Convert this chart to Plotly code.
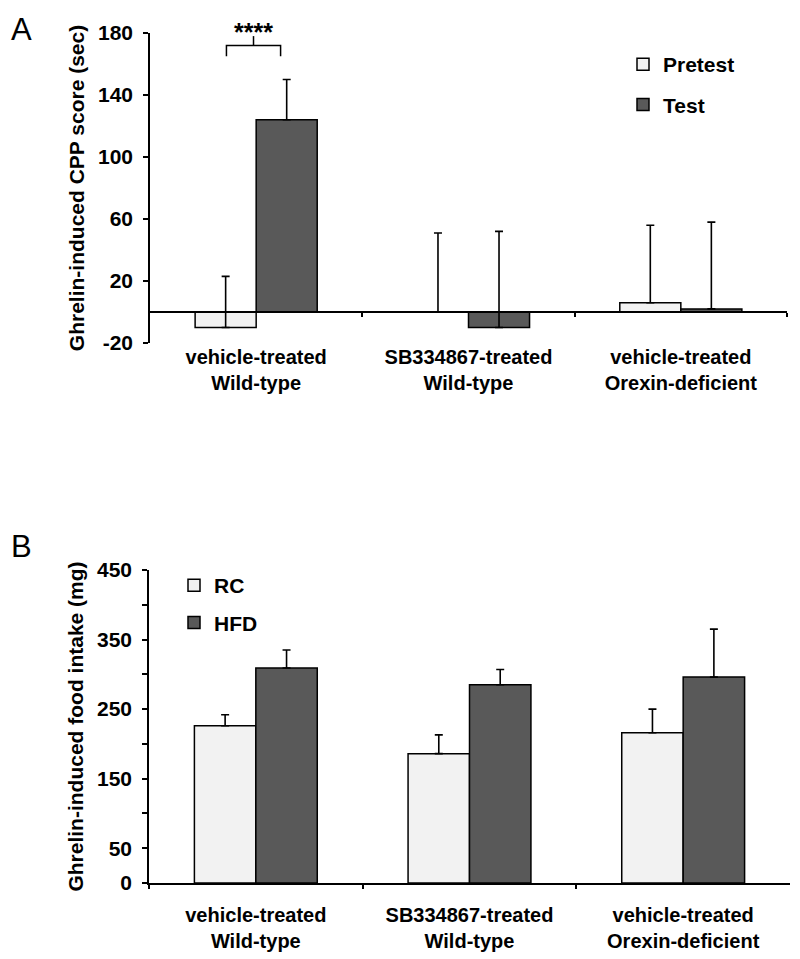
import plotly.graph_objects as go

# ---------------- data ----------------
categories = ["vehicle-treated<br>Wild-type",
              "SB334867-treated<br>Wild-type",
              "vehicle-treated<br>Orexin-deficient"]

# Panel A: ghrelin-induced CPP score (sec)
cpp_pretest = [-10, 0, 6]
cpp_pretest_err = [33, 51, 50]
cpp_test = [124, -10, 2]
cpp_test_err = [26, 62, 56]
cpp_ticks = [-20, 20, 60, 100, 140, 180]
cpp_ticktext = ["-20", "20", "60", "100", "140", "180"]

# Panel B: ghrelin-induced food intake (mg)
food_rc = [226, 186, 216]
food_rc_err = [16, 27, 34]
food_hfd = [309, 285, 296]
food_hfd_err = [26, 22, 69]
food_tickvals = [0, 50, 100, 150, 200, 250, 300, 350, 400, 450]
food_ticktext = ["0", "50", "", "150", "", "250", "", "350", "", "450"]

# ---------------- style ----------------
LIGHT = "#f2f2f2"
DARK = "#595959"
FONT = "Liberation Sans, Arial, sans-serif"
OFF = 8                      # default page body margin
W, H = 800 - OFF, 959 - OFF

def px_y(p):
    return 1 - (p - OFF) / H

def px_x(p):
    return (p - OFF) / W

A_dom_y = [px_y(343), px_y(33)]
B_dom_y = [px_y(883), px_y(570)]
A_dom_x = [px_x(150), px_x(787)]
B_dom_x = [px_x(149), px_x(790)]
A_range = [-20, 180]

def err(arr):
    return dict(type="data", symmetric=False, array=arr,
                arrayminus=[0] * len(arr), color="black",
                thickness=1.6, width=4)

bar_line = dict(color="black", width=1.5)

fig = go.Figure()

fig.add_trace(go.Bar(x=categories, y=cpp_pretest, name="Pretest",
                     marker=dict(color=LIGHT, line=bar_line),
                     error_y=err(cpp_pretest_err), xaxis="x", yaxis="y",
                     offsetgroup="a1", legendgroup="a1", legend="legend"))
fig.add_trace(go.Bar(x=categories, y=cpp_test, name="Test",
                     marker=dict(color=DARK, line=bar_line),
                     error_y=err(cpp_test_err), xaxis="x", yaxis="y",
                     offsetgroup="a2", legendgroup="a2", legend="legend"))
# axis at zero level with group-boundary ticks
fig.add_trace(go.Scatter(x=[None], y=[None], xaxis="x3", yaxis="y",
                         showlegend=False, hoverinfo="skip"))

fig.add_trace(go.Bar(x=categories, y=food_rc, name="RC",
                     marker=dict(color=LIGHT, line=bar_line),
                     error_y=err(food_rc_err), xaxis="x2", yaxis="y2",
                     offsetgroup="b1", legendgroup="b1", legend="legend2"))
fig.add_trace(go.Bar(x=categories, y=food_hfd, name="HFD",
                     marker=dict(color=DARK, line=bar_line),
                     error_y=err(food_hfd_err), xaxis="x2", yaxis="y2",
                     offsetgroup="b2", legendgroup="b2", legend="legend2"))

tickfont = dict(family=FONT, size=20, color="black", weight="bold")
ytickfont = dict(family=FONT, size=21, color="black", weight="bold")
titlefont = dict(family=FONT, size=21, color="black", weight="bold")
legfont = dict(family=FONT, size=21, color="black", weight="bold")

zero_pos = A_dom_y[0] + (0 - A_range[0]) / (A_range[1] - A_range[0]) * (A_dom_y[1] - A_dom_y[0])

fig.update_layout(
    width=W, height=H, autosize=False,
    margin=dict(l=0, r=0, t=0, b=0, autoexpand=False),
    paper_bgcolor="white", plot_bgcolor="white",
    barmode="group", bargap=0.425, bargroupgap=0,
    showlegend=True,
    xaxis=dict(domain=A_dom_x, anchor="y", type="category",
               showline=False, ticks="", showgrid=False, zeroline=False,
               tickfont=tickfont, ticklabelstandoff=0),
    xaxis3=dict(overlaying="x", anchor="free", position=zero_pos,
                range=[-0.5, 2.5], tickvals=[0.5, 1.5, 2.5],
                showline=True, linecolor="black", linewidth=1.5,
                ticks="outside", ticklen=4, tickwidth=1.5, tickcolor="black",
                showticklabels=False, showgrid=False, zeroline=False),
    yaxis=dict(domain=A_dom_y, anchor="x", range=A_range,
               tickvals=cpp_ticks, ticktext=cpp_ticktext,
               ticks="outside", ticklen=5, tickwidth=1.5,
               tickcolor="black", showline=True, linecolor="black",
               linewidth=1.5, showgrid=False, zeroline=False,
               tickfont=ytickfont, ticklabelstandoff=6,
               title=dict(text="Ghrelin-induced CPP score (sec)",
                          font=titlefont, standoff=8)),
    xaxis2=dict(domain=B_dom_x, anchor="y2", type="category",
                showline=True, linecolor="black", linewidth=1.5,
                ticks="outside", tickson="boundaries", ticklen=4,
                tickwidth=1.5, tickcolor="black",
                showgrid=False, zeroline=False,
                tickfont=tickfont, ticklabelstandoff=13),
    yaxis2=dict(domain=B_dom_y, anchor="x2", range=[0, 450],
                tickvals=food_tickvals, ticktext=food_ticktext,
                ticks="outside", ticklen=5, tickwidth=1.5, tickcolor="black",
                showline=True, linecolor="black", linewidth=1.5,
                showgrid=False, zeroline=False,
                tickfont=ytickfont, ticklabelstandoff=6,
                title=dict(text="Ghrelin-induced food intake (mg)",
                           font=titlefont, standoff=8)),
    legend=dict(x=px_x(623), y=px_y(44), xanchor="left", yanchor="top",
                font=legfont, bgcolor="rgba(0,0,0,0)", tracegroupgap=10),
    legend2=dict(x=px_x(174), y=px_y(565), xanchor="left", yanchor="top",
                 font=legfont, bgcolor="rgba(0,0,0,0)", tracegroupgap=7),
)

# significance bracket between Pretest and Test of the first group
x_left, x_right = -0.14, 0.115
y_br = cpp_test[0] + cpp_test_err[0] + 22
fig.add_shape(type="path", xref="x", yref="y",
              path=f"M {x_left},{y_br - 7} L {x_left},{y_br} L {x_right},{y_br} L {x_right},{y_br - 7}",
              line=dict(color="black", width=1.5))
x_mid = (x_left + x_right) / 2
fig.add_shape(type="line", xref="x", yref="y", x0=x_mid, x1=x_mid,
              y0=y_br, y1=y_br + 6, line=dict(color="black", width=1.5))
fig.add_annotation(text="****", xref="x", yref="y", x=x_mid, y=y_br - 2,
                   yanchor="bottom", showarrow=False,
                   font=dict(family=FONT, size=25, color="black", weight="bold"))

# panel letters
fig.add_annotation(text="A", xref="paper", yref="paper", x=px_x(8.5), y=px_y(10),
                   xanchor="left", yanchor="top", showarrow=False,
                   font=dict(family=FONT, size=31, color="black"))
fig.add_annotation(text="B", xref="paper", yref="paper", x=px_x(8.5), y=px_y(527),
                   xanchor="left", yanchor="top", showarrow=False,
                   font=dict(family=FONT, size=31, color="black"))

fig.write_html("out.html")
